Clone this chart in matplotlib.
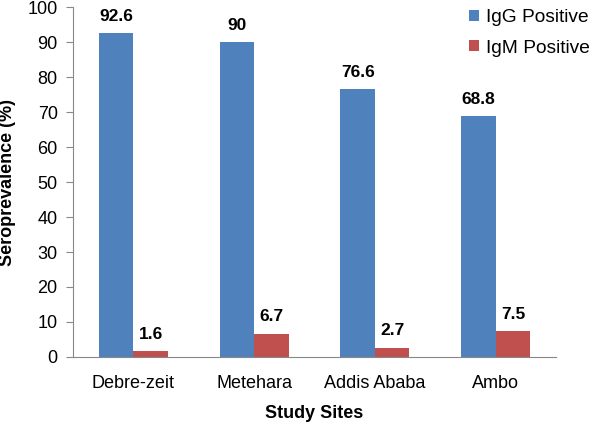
import numpy as np
import matplotlib.pyplot as plt

plt.rcParams['font.family'] = ['Liberation Sans', 'DejaVu Sans']

sites = ["Debre-zeit", "Metehara", "Addis Ababa", "Ambo"]
igg = [92.6, 90, 76.6, 68.8]
igm = [1.6, 6.7, 2.7, 7.5]

fig = plt.figure(figsize=(6, 4.28), dpi=100)
ax = fig.add_axes([0.1217, 0.1659, 0.805, 0.8177])

x = np.arange(len(sites))
w = 0.286
b1 = ax.bar(x - w / 2, igg, w, color="#4F81BD", label="IgG Positive")
b2 = ax.bar(x + w / 2, igm, w, color="#C0504D", label="IgM Positive")

for bars, vals in ((b1, igg), (b2, igm)):
    for r, v in zip(bars, vals):
        ax.text(r.get_x() + r.get_width() / 2, v + 2.6, f"{v:g}",
                ha="center", va="bottom", fontsize=12.5, fontweight="bold")

ax.set_xlim(-0.5, 3.5)
ax.set_ylim(0, 100)
ax.set_yticks(range(0, 101, 10))
ax.set_xticks(x)
ax.set_xticklabels(sites)
ax.tick_params(axis="y", labelsize=13, length=5, pad=6, color="#888888")
ax.tick_params(axis="x", labelsize=13, length=0, pad=13)
for s in ("top", "right"):
    ax.spines[s].set_visible(False)
for s in ("left", "bottom"):
    ax.spines[s].set_color("#888888")

ax.set_ylabel("Seroprevalence (%)", fontsize=13, fontweight="bold", labelpad=8)
ax.set_xlabel("Study Sites", fontsize=13, fontweight="bold", labelpad=9)

fig.legend(loc="upper left", bbox_to_anchor=(0.76, 1.01), frameon=False,
           fontsize=13.8, handlelength=0.5, handleheight=0.5, handletextpad=0.35,
           labelspacing=0.7, borderaxespad=0.3)

fig.savefig("out.png", dpi=100)
